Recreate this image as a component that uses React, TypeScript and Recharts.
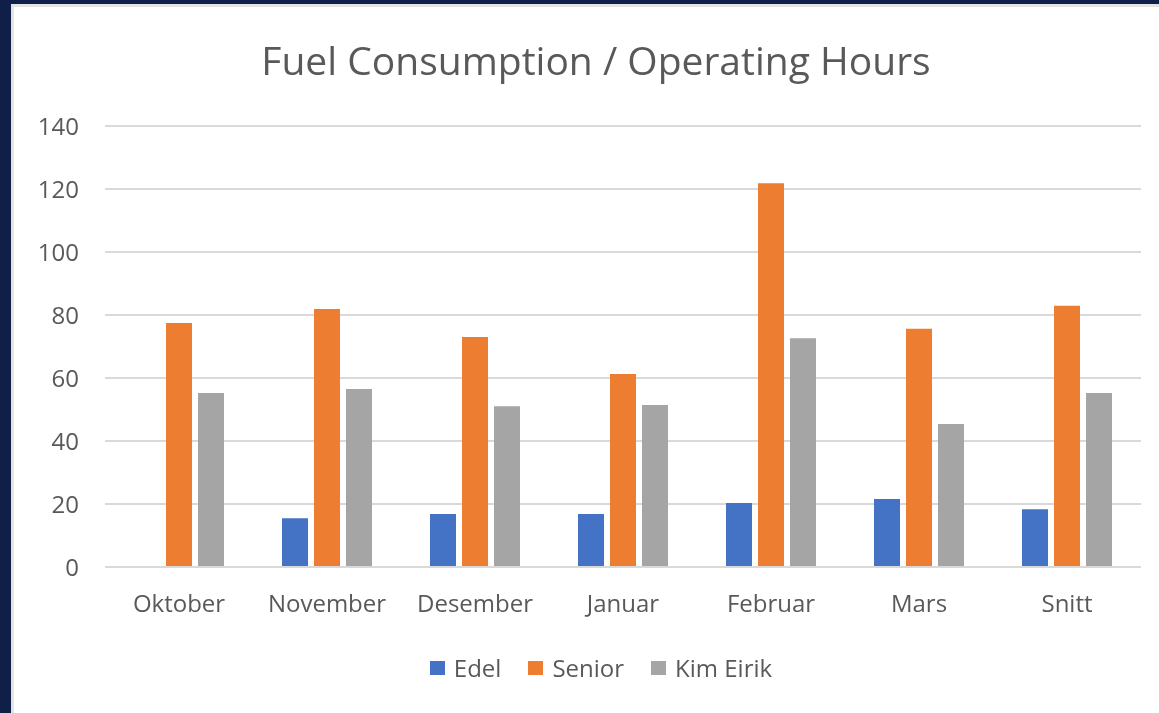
import React from "react"
import { Bar, BarChart, CartesianGrid, Legend, XAxis, YAxis } from "recharts"

const months = ["Oktober", "November", "Desember", "Januar", "Februar", "Mars", "Snitt"]
const edel = [null, 15.5, 16.8, 16.8, 20.3, 21.6, 18.3]
const senior = [77.5, 81.9, 73.0, 61.3, 121.8, 75.6, 82.9]
const kimEirik = [55.2, 56.5, 51.0, 51.4, 72.6, 45.4, 55.2]
const yTicks = [0, 20, 40, 60, 80, 100, 120, 140]

const series = [
  { key: "Edel", color: "#4472c4", values: edel },
  { key: "Senior", color: "#ed7d31", values: senior },
  { key: "Kim Eirik", color: "#a5a5a5", values: kimEirik },
]

const data = months.map((month, i) => {
  const row: Record<string, string | number | null> = { month }
  series.forEach((s) => {
    row[s.key] = s.values[i]
  })
  return row
})

const font = "'Open Sans', sans-serif"
const textColor = "#595959"

function LegendContent() {
  return (
    <div
      style={{
        display: "flex",
        justifyContent: "center",
        alignItems: "center",
        gap: 27,
        paddingLeft: 50,
        fontFamily: font,
        fontSize: 24,
        color: textColor,
      }}
    >
      {series.map((s) => (
        <div key={s.key} style={{ display: "flex", alignItems: "center" }}>
          <span style={{ width: 15, height: 14, background: s.color, marginRight: 9, display: "inline-block" }} />
          <span>{s.key}</span>
        </div>
      ))}
    </div>
  )
}

export default function App() {
  return (
    <div style={{ position: "fixed", left: 0, top: 0, width: 1159, height: 713, background: "#0f1f47" }}>
      <div
        style={{
          position: "absolute",
          left: 11,
          top: 4,
          width: 1148,
          height: 709,
          background: "#fff",
          borderTop: "3px solid #e3e3e3",
          borderLeft: "3px solid #e3e3e3",
          boxSizing: "border-box",
        }}
      >
        <div
          style={{
            position: "absolute",
            left: -3,
            top: 29,
            width: 1170,
            textAlign: "center",
            fontFamily: font,
            fontSize: 39,
            color: textColor,
            lineHeight: "48px",
            whiteSpace: "nowrap",
          }}
        >
          Fuel Consumption / Operating Hours
        </div>
        <div style={{ position: "absolute", left: -3, top: -3 }}>
          <BarChart
            width={1148}
            height={709}
            data={data}
            margin={{ top: 122, right: 18, left: 0, bottom: 32 }}
            barSize={26}
            barGap={6}
          >
            <CartesianGrid vertical={false} stroke="#d9d9d9" strokeWidth={2} />
            <XAxis
              dataKey="month"
              height={84}
              tickLine={false}
              axisLine={{ stroke: "#d9d9d9", strokeWidth: 2 }}
              tickSize={0}
              tickMargin={28}
              tick={{ fontFamily: font, fontSize: 24, fill: textColor }}
            />
            <YAxis
              width={94}
              domain={[0, 140]}
              ticks={yTicks}
              axisLine={false}
              tickLine={false}
              tickSize={0}
              tickMargin={26}
              tick={{ fontFamily: font, fontSize: 24, fill: textColor }}
            />
            <Legend verticalAlign="bottom" height={30} content={<LegendContent />} />
            {series.map((s) => (
              <Bar key={s.key} dataKey={s.key} fill={s.color} isAnimationActive={false} />
            ))}
          </BarChart>
        </div>
      </div>
    </div>
  )
}
